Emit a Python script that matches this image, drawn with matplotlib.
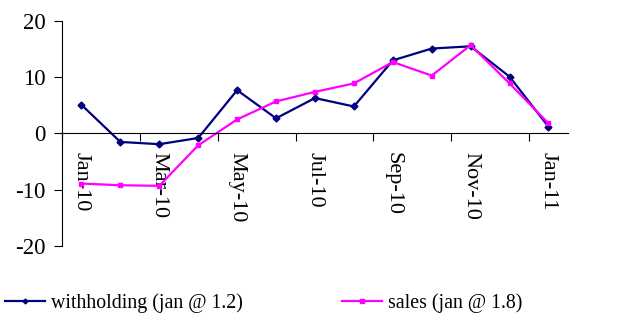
import matplotlib
matplotlib.use("Agg")
import matplotlib.pyplot as plt
import numpy as np

months = ["Jan-10", "Feb-10", "Mar-10", "Apr-10", "May-10", "Jun-10", "Jul-10",
          "Aug-10", "Sep-10", "Oct-10", "Nov-10", "Dec-10", "Jan-11"]
withholding = [5.1, -1.5, -1.9, -0.8, 7.7, 2.7, 6.3, 4.8, 13.0, 15.1, 15.5, 10.1, 1.2]
sales = [-8.9, -9.2, -9.3, -2.1, 2.5, 5.7, 7.4, 8.9, 12.7, 10.3, 15.7, 8.9, 1.8]
yticks = [-20, -10, 0, 10, 20]

plt.rcParams["font.family"] = ["Liberation Serif", "DejaVu Serif"]
plt.rcParams["axes.unicode_minus"] = False

fig = plt.figure(figsize=(6.18, 3.28), dpi=100)
ax = fig.add_axes([0.1003, 0.25, 0.8187, 0.686])

x = np.arange(len(months))
l1, = ax.plot(x, withholding, color="#000080", lw=1.6, marker="D", ms=3.5)
l2, = ax.plot(x, sales, color="#FF00FF", lw=1.6, marker="s", ms=3.2)

ax.set_xlim(-0.5, len(months) - 0.5)
ax.set_ylim(-20, 20)
ax.set_yticks(yticks)
ax.tick_params(axis="y", labelsize=16.5, length=6, width=0.8, direction="out", pad=6)

# category labels every other month, tick marks on category boundaries
ax.set_xticks(x[::2])
ax.set_xticks(np.arange(-0.5, len(months), 2), minor=True)
ax.tick_params(axis="x", which="major", length=0, pad=13,
               labelsize=16, labelrotation=-90)
ax.tick_params(axis="x", which="minor", length=6, width=0.8, direction="out")
ax.set_xticklabels(months[::2])
for lab in ax.get_xticklabels():
    lab.set_verticalalignment("top")
    lab.set_horizontalalignment("center")

ax.spines["top"].set_visible(False)
ax.spines["right"].set_visible(False)
ax.spines["bottom"].set_position(("data", 0))
for s in ("left", "bottom"):
    ax.spines[s].set_linewidth(0.8)

legend_kw = dict(loc="center left", frameon=False, fontsize=14.3, borderpad=0,
                 borderaxespad=0, handlelength=2.0, handletextpad=0.3,
                 markerscale=0.7)
fig.legend([l1], ["withholding (jan @ 1.2)"],
           bbox_to_anchor=(5 / 618, 1 - 303 / 328), **legend_kw)
fig.legend([l2], ["sales (jan @ 1.8)"],
           bbox_to_anchor=(342 / 618, 1 - 303 / 328), **legend_kw)

fig.savefig("out.png", dpi=100)
